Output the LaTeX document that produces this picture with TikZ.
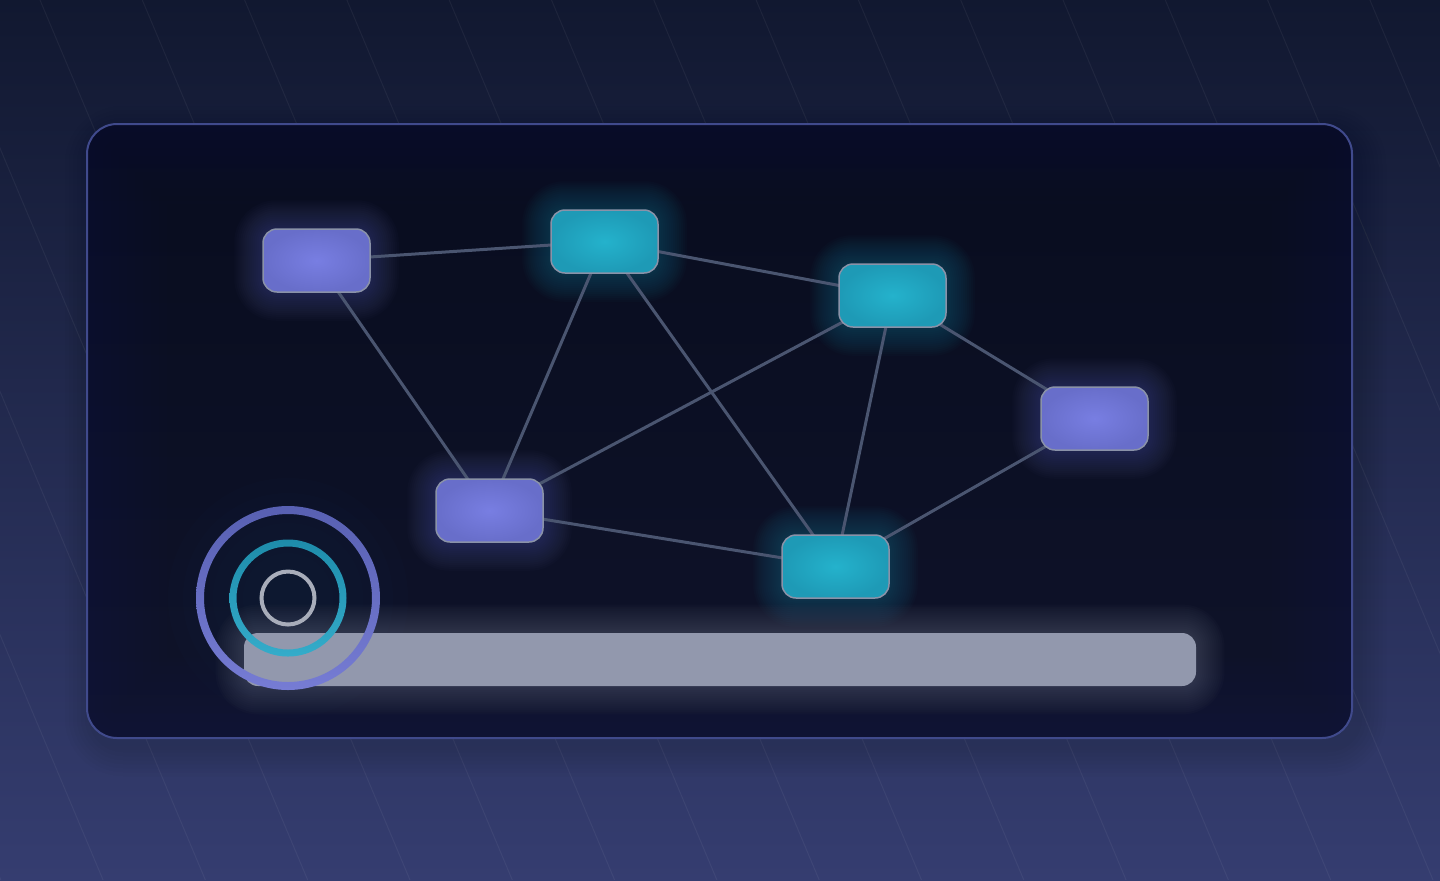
\documentclass[tikz,border=0pt]{standalone}
\usepackage{tikz}
\usepackage{xcolor}
\usetikzlibrary{positioning, calc, backgrounds}
\definecolor{canvasTop}{RGB}{17, 24, 48}
\definecolor{canvasBottom}{RGB}{53, 61, 112}
\definecolor{panelTop}{RGB}{8, 12, 30}
\definecolor{panelBottom}{RGB}{15, 19, 42}
\definecolor{panelEdge}{RGB}{64, 74, 140}
\definecolor{nodePurple}{RGB}{104, 110, 202}
\definecolor{nodePurpleLight}{RGB}{120, 126, 226}
\definecolor{nodeCyan}{RGB}{30, 154, 182}
\definecolor{nodeCyanLight}{RGB}{36, 178, 204}
\definecolor{nodeEdge}{RGB}{138, 146, 168}
\definecolor{linkGrey}{RGB}{74, 85, 112}
\definecolor{barGrey}{RGB}{146, 152, 173}
\definecolor{ringPurpleTop}{RGB}{88, 96, 178}
\definecolor{ringPurpleBottom}{RGB}{118, 124, 212}
\definecolor{ringCyanTop}{RGB}{30, 140, 170}
\definecolor{ringCyanBottom}{RGB}{52, 172, 202}
\definecolor{ringGrey}{RGB}{168, 173, 186}
\pgfdeclarelayer{glow}
\pgfdeclarelayer{links}
\pgfsetlayers{background,glow,links,main}

\begin{document}
\begin{tikzpicture}[x=0.5pt, y=-0.5pt,
    card/.style={draw=nodeEdge, line width=0.75pt, rounded corners=7pt,
      minimum width=53.5pt, minimum height=31.5pt, inner sep=0pt},
    purplecard/.style={card, inner color=nodePurpleLight, outer color=nodePurple},
    cyancard/.style={card, inner color=nodeCyanLight, outer color=nodeCyan},
    link/.style={draw=linkGrey, line width=1.5pt}]
    \useasboundingbox (0,0) rectangle (1440,880);

    % Canvas
    \begin{pgfonlayer}{background}
        \shade[top color=canvasTop, bottom color=canvasBottom] (0,0) rectangle (1440,880);
        \begin{scope}
            \clip (0,0) rectangle (1440,880);
            \foreach \k in {-4,...,13} {
                \pgfmathsetmacro\xo{40+102.3*\k}
                \draw[white, opacity=0.05, line width=0.5pt] (\xo,0) -- ++(370,880);
            }
        \end{scope}

        % Panel shadow
        \foreach \r in {4,8,...,28}
            \fill[black, opacity=0.015, rounded corners={(15+\r/2)*1pt}]
                (87-\r+6,124-\r+10) rectangle (1352+\r+6,738+\r+10);

        % Panel
        \shade[top color=panelTop, bottom color=panelBottom, rounded corners=15pt]
            (87,124) rectangle (1352,738);
        \begin{scope}
            \clip[rounded corners=15pt] (87,124) rectangle (1352,738);
            \foreach \w in {8,16,...,80}
                \draw[panelEdge, opacity=0.012, line width=\w pt, rounded corners=15pt]
                    (87,124) rectangle (1352,738);
            % glow behind the rings
            \foreach \r in {30,45,...,120}
                \fill[ringCyanTop, opacity=0.015] (288,598) circle[radius=\r];
        \end{scope}
        \draw[panelEdge, line width=1pt, rounded corners=15pt] (87,124) rectangle (1352,738);
    \end{pgfonlayer}

    % Nodes
    \node[purplecard] (nw) at (316.5,260.5) {};
    \node[cyancard]   (n)  at (604.5,241.5) {};
    \node[cyancard]   (ne) at (892.5,295.5) {};
    \node[purplecard] (e)  at (1094.5,418.5) {};
    \node[purplecard] (sw) at (489.5,510.5) {};
    \node[cyancard]   (s)  at (835.5,566.5) {};

    % Links
    \begin{pgfonlayer}{links}
        \draw[link] (nw.center) -- (n.center);
        \draw[link] (nw.center) -- (sw.center);
        \draw[link] (n.center) -- (sw.center);
        \draw[link] (n.center) -- (s.center);
        \draw[link] (n.center) -- (ne.center);
        \draw[link] (ne.center) -- (sw.center);
        \draw[link] (ne.center) -- (s.center);
        \draw[link] (ne.center) -- (e.center);
        \draw[link] (e.center) -- (s.center);
        \draw[link] (sw.center) -- (s.center);
    \end{pgfonlayer}

    % Progress bar
    \node[fill=barGrey, rounded corners=7pt, minimum width=476pt, minimum height=26.5pt,
        inner sep=0pt] (bar) at (720,659.5) {};

    % Glow
    \begin{pgfonlayer}{glow}
        \foreach \nd/\c in {nw/nodePurple, n/nodeCyan, ne/nodeCyan, e/nodePurple,
                            sw/nodePurple, s/nodeCyan, bar/barGrey}
            \foreach \r in {1,2,...,14}
                \fill[\c, opacity=0.022, rounded corners={(7+\r)*1pt}]
                    ([xshift=-\r pt, yshift=-\r pt]\nd.south west)
                    rectangle ([xshift=\r pt, yshift=\r pt]\nd.north east);
    \end{pgfonlayer}

    % Rings
    \shade[top color=ringPurpleTop, bottom color=ringPurpleBottom, even odd rule]
        (288,598) circle[radius=92] (288,598) circle[radius=84];
    \shade[top color=ringCyanTop, bottom color=ringCyanBottom, even odd rule]
        (288,598) circle[radius=58.5] (288,598) circle[radius=51.5];
    \draw[ringGrey, line width=2pt] (288,598) circle[radius=26.5];
\end{tikzpicture}
\end{document}
